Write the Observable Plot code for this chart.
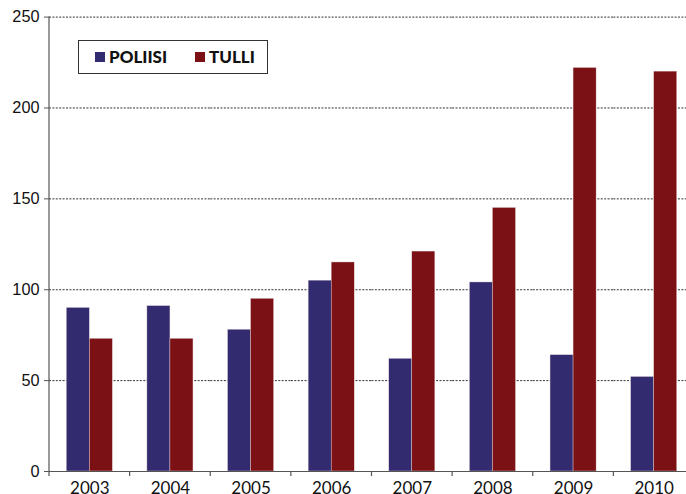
<!DOCTYPE html>
<html>
<head>
<meta charset="utf-8">
<script src="https://cdn.jsdelivr.net/npm/d3@7"></script>
<script src="https://cdn.jsdelivr.net/npm/@observablehq/plot@0.6"></script>
<style>
  html, body { margin: 0; padding: 0; background: #fff; }
  #wrap { position: relative; width: 686px; height: 494px; overflow: hidden; }
  #legend {
    position: absolute; left: 78px; top: 40px; width: 188px; height: 32px;
    border: 1px solid #333; background: #fff; box-sizing: content-box;
    font-family: Lato, "DejaVu Sans", sans-serif; font-weight: 900; font-size: 17px; color: #111;
  }
  #legend .item { position: absolute; top: 8px; display: flex; align-items: center; line-height: 16px; }
  #legend .sw { width: 10px; height: 10px; margin-right: 4px; }
</style>
</head>
<body>
<div id="wrap"></div>
<script>
const years = ["2003","2004","2005","2006","2007","2008","2009","2010"];
const series = ["POLIISI","TULLI"];
const poliisi = [90, 91, 78, 105, 62, 104, 64, 52];
const tulli   = [73, 73, 95, 115, 121, 145, 222, 220];
const yTicks = [0, 50, 100, 150, 200, 250];
const colors = ["#332b70", "#7b1115"];

const data = [];
years.forEach((yr, i) => {
  data.push({year: yr, series: series[0], value: poliisi[i]});
  data.push({year: yr, series: series[1], value: tulli[i]});
});

const plot = Plot.plot({
  width: 686,
  height: 494,
  marginLeft: 49,
  marginRight: -8,
  marginTop: 16.6,
  marginBottom: 23,
  fx: {domain: years, padding: 0, round: false, label: null},
  x: {domain: series, paddingInner: 0, paddingOuter: 0.75, round: false, axis: null},
  y: {domain: [0, 250], axis: null},
  color: {domain: series, range: colors},
  marks: [
    Plot.gridY(yTicks.filter(d => d > 0), {stroke: "#333", strokeOpacity: 1, strokeWidth: 1, strokeDasharray: "2,1.4"}),
    Plot.barY(data, {fx: "year", x: "series", y: "value", fill: "series", stroke: "#e8d8d8", strokeWidth: 0.4}),
    Plot.ruleY([0], {stroke: "#555", strokeWidth: 1.2}),
    Plot.axisFx({anchor: "bottom", tickSize: 0, tickPadding: 10, fontSize: 17, fontFamily: "Lato, sans-serif", fill: "#111", label: null}),
    Plot.axisY(yTicks, {tickSize: 5, tickPadding: 5, fontSize: 16.3, fontFamily: "Liberation Sans, Arial, sans-serif", fill: "#111", label: null, stroke: "#555"})
  ]
});

document.getElementById("wrap").appendChild(plot);

// y-axis line and category boundary ticks from the plot's own scales
const fx = plot.scale("fx");
const y = plot.scale("y");
const svg = d3.select(plot);
const y0 = y.apply(0), yTop = y.apply(250);
const left = fx.apply(years[0]);
svg.append("line")
  .attr("x1", left).attr("x2", left).attr("y1", yTop).attr("y2", y0)
  .attr("stroke", "#555").attr("stroke-width", 1.2);
const bounds = years.map(d => fx.apply(d)).concat([fx.apply(years[years.length - 1]) + fx.step]);
svg.append("g").selectAll("line").data(bounds).join("line")
  .attr("x1", d => d).attr("x2", d => d).attr("y1", y0).attr("y2", y0 + 5)
  .attr("stroke", "#555").attr("stroke-width", 1.2);

// legend
const legend = document.createElement("div");
legend.id = "legend";
const lx = [16, 116];
series.forEach((s, i) => {
  const it = document.createElement("div");
  it.className = "item";
  it.style.left = lx[i] + "px";
  it.innerHTML = `<span class="sw" style="background:${colors[i]}"></span><span>${s}</span>`;
  legend.appendChild(it);
});
document.getElementById("wrap").appendChild(legend);
</script>
</body>
</html>
